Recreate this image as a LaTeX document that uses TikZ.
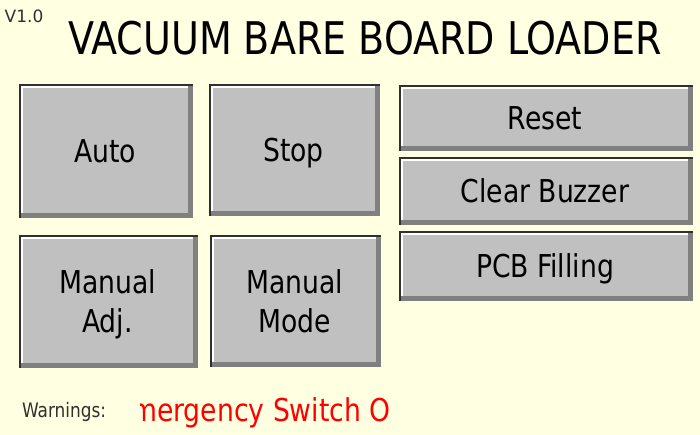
\documentclass[tikz,border=0pt]{standalone}
\usepackage{fontspec}
\setmainfont{DejaVu Sans Condensed}[FakeStretch=0.94]
\newfontfamily\verfont{DejaVu Sans}
\definecolor{panelbg}{HTML}{FFFFE1}
\definecolor{btngray}{HTML}{C0C0C0}
\definecolor{btnshade}{HTML}{808080}
\definecolor{btnedge}{HTML}{303030}
\tikzset{
    btnlabel/.style={align=center,inner sep=0pt,text depth=0pt,font=\fontsize{31.5}{39}\selectfont},
}
\begin{document}
\begin{tikzpicture}[x=1pt,y=-1pt]
        \fill[panelbg] (0,0) rectangle (700,435);
        \useasboundingbox (0,0) rectangle (700,435);
        \node[anchor=base,inner sep=0pt,font=\verfont\fontsize{17}{18}\selectfont,text=btnedge] (version) at (24,23) {V1.0};
        \node[anchor=base,inner sep=0pt,font=\fontsize{45}{50}\selectfont] (title) at (365,55) {VACUUM BARE BOARD LOADER};
        \foreach \nm/\xa/\ya/\xb/\yb/\txt in {
            auto/19/84/193/218/Auto, stop/209/84/380/216/Stop,
            adj/19/235/198/368/{Manual\\Adj.}, mode/210/235/381/367/{Manual\\Mode},
            reset/399/85/693/151/Reset, buzzer/399/157/693/225/Clear Buzzer,
            filling/399/231/693/301/PCB Filling} {
            \fill[btnshade] (\xa,\ya) rectangle (\xb,\yb);
            \fill[btngray] (\xa+2,\ya+2) rectangle (\xb-5,\yb-5);
            \draw[white,line width=2pt] (\xa+3,\yb-5) -- (\xa+3,\ya+3) -- (\xb-5,\ya+3);
            \draw[btnedge,line width=2pt] (\xa+1,\yb) -- (\xa+1,\ya+1) -- (\xb,\ya+1);
            \node[btnlabel] (\nm) at ({(\xa+\xb)/2-1},{(\ya+\yb)/2}) {\txt};
        }
        \node[anchor=base west,inner sep=0pt,font=\fontsize{20}{24}\selectfont,text=btnedge] (warn) at (22,417) {Warnings:};
        \begin{scope}
            \clip (140,385) rectangle (395,432);
            \node[anchor=base west,inner sep=0pt,font=\fontsize{31.5}{36}\selectfont,text=red] (alarm) at (131,421) {mergency Switch O};
        \end{scope}
    \end{tikzpicture}
\end{document}
